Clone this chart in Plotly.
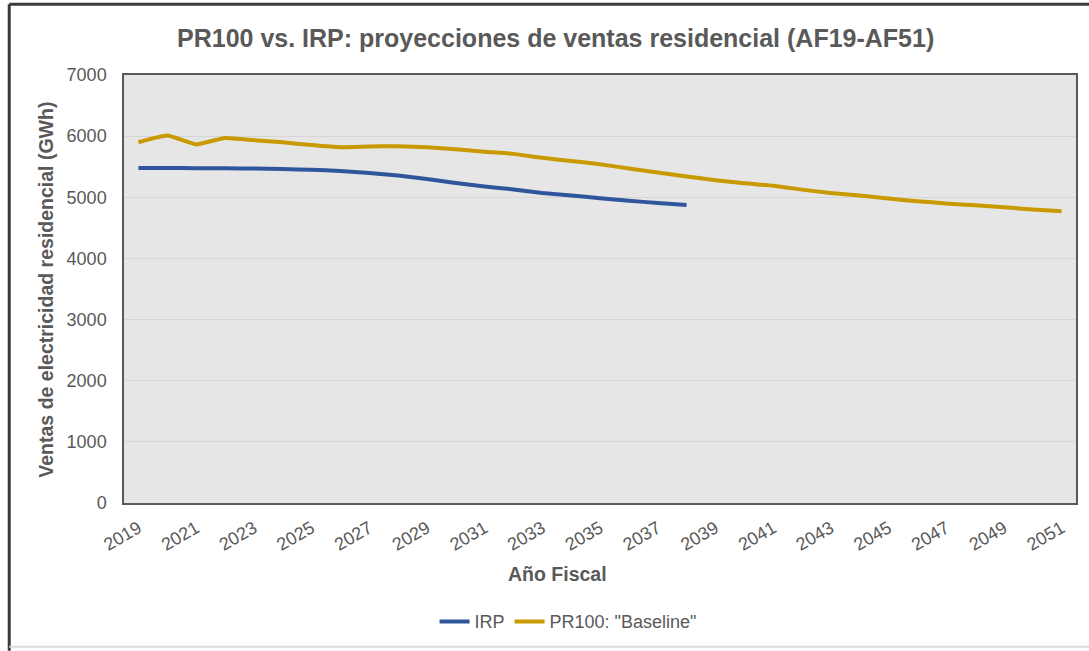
import plotly.graph_objects as go

# Fiscal years shown on the horizontal axis
years_pr100 = list(range(2019, 2052))
years_irp = list(range(2019, 2039))
tick_years = list(range(2019, 2052, 2))

# Residential electricity sales (GWh)
irp_sales = [5477, 5480, 5475, 5475, 5470, 5462, 5450, 5430, 5396, 5355,
             5298, 5233, 5178, 5129, 5069, 5031, 4985, 4944, 4906, 4873]
pr100_sales = [5900, 6010, 5865, 5970, 5935, 5900, 5855, 5820, 5830, 5835,
               5820, 5785, 5745, 5710, 5645, 5595, 5540, 5470, 5405, 5340,
               5280, 5230, 5190, 5125, 5070, 5030, 4980, 4935, 4900, 4868,
               4835, 4802, 4770]

W, H = 1089, 651
L, R, T, B = 124, 1078, 75, 504  # plot area in pixels


def px_x(p):
    return (p - L) / (R - L)


def px_y(p):
    return (B - p) / (B - T)


TEXT = "#595959"
FONT = "Liberation Sans, Arial, sans-serif"

fig = go.Figure()
fig.add_trace(go.Scatter(x=years_irp, y=irp_sales, mode="lines", name="IRP",
                         line=dict(color="#2F569C", width=4, shape="spline",
                                   smoothing=0.4)))
fig.add_trace(go.Scatter(x=years_pr100, y=pr100_sales, mode="lines",
                         name='PR100: "Baseline"',
                         line=dict(color="#C99A00", width=4, shape="spline",
                                   smoothing=0.4)))

fig.update_layout(
    width=W, height=H,
    margin=dict(l=L, r=W - R, t=T, b=H - B, pad=0),
    paper_bgcolor="white",
    plot_bgcolor="#E6E6E6",
    font=dict(family=FONT, color=TEXT, size=18),
    showlegend=True,
    legend=dict(orientation="h", x=px_x(569), xanchor="center",
                y=px_y(623), yanchor="middle",
                font=dict(size=18, color=TEXT), itemwidth=30,
                tracegroupgap=0, bgcolor="rgba(0,0,0,0)"),
    xaxis=dict(range=[2018.5, 2051.5], tickmode="array", tickvals=tick_years,
               ticktext=[str(y) for y in tick_years], tickangle=-30,
               showgrid=False, zeroline=False, showline=True, mirror=True,
               linecolor="#595959", linewidth=1.5, ticks="outside",
               ticklen=6, tickcolor="rgba(0,0,0,0)",
               tickfont=dict(size=18, color=TEXT)),
    yaxis=dict(range=[0, 7000], dtick=1000, showgrid=True,
               gridcolor="#D6D6D6", gridwidth=1, zeroline=False,
               showline=True, mirror=True, linecolor="#595959",
               linewidth=1.5, ticks="outside", ticklen=12,
               tickcolor="rgba(0,0,0,0)",
               tickfont=dict(size=18, color=TEXT)),
    annotations=[
        dict(text="<b>PR100 vs. IRP: proyecciones de ventas residencial (AF19-AF51)</b>",
             xref="paper", yref="paper", x=px_x(556), y=px_y(38),
             xanchor="center", yanchor="middle", showarrow=False,
             font=dict(size=25, color=TEXT, family=FONT)),
        dict(text="<b>Año Fiscal</b>", xref="paper", yref="paper",
             x=px_x(558), y=px_y(575), xanchor="center", yanchor="middle",
             showarrow=False, font=dict(size=19.5, color=TEXT, family=FONT)),
        dict(text="<b>Ventas de electricidad residencial (GWh)</b>",
             xref="paper", yref="paper", x=px_x(46), y=px_y(290),
             xanchor="center", yanchor="middle", textangle=-90,
             showarrow=False, font=dict(size=19.5, color=TEXT, family=FONT)),
    ],
    shapes=[
        # outer chart frame
        dict(type="line", xref="paper", yref="paper",
             x0=px_x(9), x1=px_x(9), y0=px_y(652), y1=px_y(4),
             line=dict(color="#3A3A3A", width=3)),
        dict(type="line", xref="paper", yref="paper",
             x0=px_x(9), x1=px_x(1095), y0=px_y(4), y1=px_y(4),
             line=dict(color="#3A3A3A", width=3)),
        dict(type="line", xref="paper", yref="paper",
             x0=px_x(9), x1=px_x(1095), y0=px_y(648), y1=px_y(648),
             line=dict(color="#DADADA", width=2)),
    ],
)

fig.write_html("out.html")
